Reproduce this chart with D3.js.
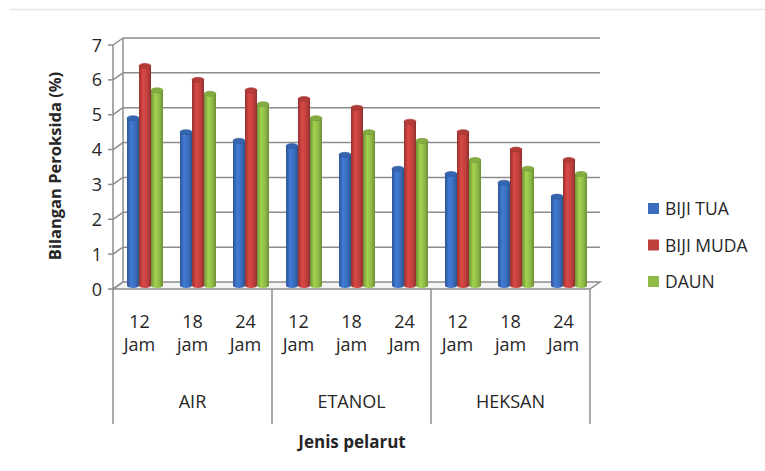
<!DOCTYPE html>
<html>
<head>
<meta charset="utf-8">
<script src="https://cdn.jsdelivr.net/npm/d3@7"></script>
<style>
  body { margin: 0; background: #fff; }
  svg text { font-family: "Open Sans", sans-serif; fill: #262626; }
</style>
</head>
<body>
<svg id="chart" width="765" height="471"></svg>
<script>
// data
var groups = ["AIR", "ETANOL", "HEKSAN"];
var hours = ["12|Jam", "18|jam", "24|Jam"];
var seriesNames = ["BIJI TUA", "BIJI MUDA", "DAUN"];
var bijiTua = [4.8, 4.4, 4.15, 4.0, 3.75, 3.35, 3.2, 2.95, 2.55];
var bijiMuda = [6.3, 5.9, 5.6, 5.35, 5.1, 4.7, 4.4, 3.9, 3.6];
var daun = [5.6, 5.5, 5.2, 4.8, 4.4, 4.15, 3.6, 3.35, 3.2];
var yTicks = [0, 1, 2, 3, 4, 5, 6, 7];
var colors = ["#3a6dbd", "#c0403d", "#8fba46"];

window.onload = function() {
    var svg = d3.select("#chart");
    var series = [bijiTua, bijiMuda, daun];

    var fx0 = 113, fx1 = 590,   // front edge of the floor
        dx = 10, dy = -7;        // depth offset of the back wall

    // categories: one per group x hour
    var cats = [];
    groups.forEach(function(g) {
        hours.forEach(function(h) { cats.push(g + "-" + h); });
    });

    var x = d3.scaleBand().domain(cats).range([fx0, fx1]);
    var y = d3.scaleLinear().domain([0, 7]).range([289, 45]);

    // top faint line
    svg.append("line")
        .attr("x1", 9).attr("x2", 765).attr("y1", 9.5).attr("y2", 9.5)
        .attr("stroke", "#e6e6e6").attr("stroke-width", 1.5);

    // gradients for the cylinders
    var defs = svg.append("defs");
    colors.forEach(function(c, i) {
        var base = d3.color(c);
        var grad = defs.append("linearGradient").attr("id", "g" + i)
            .attr("x1", "0%").attr("x2", "100%").attr("y1", "0%").attr("y2", "0%");
        grad.append("stop").attr("offset", "0%").attr("stop-color", base.darker(0.7));
        grad.append("stop").attr("offset", "35%").attr("stop-color", base.brighter(0.35));
        grad.append("stop").attr("offset", "70%").attr("stop-color", base);
        grad.append("stop").attr("offset", "100%").attr("stop-color", base.darker(0.8));
    });

    var grid = svg.append("g").attr("stroke", "#8c8c8c").attr("stroke-width", 1.5).attr("fill", "none");

    // floor
    grid.append("path")
        .attr("d", "M" + fx0 + "," + y(0) + "L" + fx1 + "," + y(0) +
                   "L" + (fx1 + dx) + "," + (y(0) + dy) + "L" + (fx0 + dx) + "," + (y(0) + dy) + "Z")
        .attr("fill", "#f4f4f4");

    // back wall gridlines and left wall diagonals
    yTicks.forEach(function(t) {
        if (t > 0) {
            grid.append("line")
                .attr("x1", fx0 + dx).attr("x2", fx1 + dx)
                .attr("y1", y(t) + dy).attr("y2", y(t) + dy);
        }
        grid.append("line")
            .attr("x1", fx0).attr("x2", fx0 + dx)
            .attr("y1", y(t)).attr("y2", y(t) + dy);
        grid.append("line")
            .attr("x1", fx0 - 5).attr("x2", fx0)
            .attr("y1", y(t)).attr("y2", y(t));
    });
    grid.append("line").attr("x1", fx0 + dx).attr("x2", fx0 + dx)
        .attr("y1", y(7) + dy).attr("y2", y(0) + dy);
    grid.append("line").attr("x1", fx0).attr("x2", fx0)
        .attr("y1", y(7)).attr("y2", y(0));

    // y tick labels
    svg.append("g").selectAll("text").data(yTicks).enter().append("text")
        .attr("x", 102).attr("y", function(d) { return y(d) + 6.5; })
        .attr("text-anchor", "end").attr("font-size", 18)
        .text(function(d) { return d; });

    // bars as cylinders
    var bw = 12, ry = 2.5;
    var bars = svg.append("g");
    cats.forEach(function(c, ci) {
        var cx = x(c) + x.bandwidth() / 2 + dx * 0.55;
        series.forEach(function(s, si) {
            var left = cx - 1.5 * bw + si * bw;
            var top = y(s[ci]) + dy / 2,
                bottom = y(0) + dy / 2;
            bars.append("rect")
                .attr("x", left).attr("y", top)
                .attr("width", bw).attr("height", bottom - top)
                .attr("fill", "url(#g" + si + ")");
            bars.append("ellipse")
                .attr("cx", left + bw / 2).attr("cy", bottom)
                .attr("rx", bw / 2).attr("ry", ry)
                .attr("fill", "url(#g" + si + ")");
            bars.append("ellipse")
                .attr("cx", left + bw / 2).attr("cy", top)
                .attr("rx", bw / 2).attr("ry", ry)
                .attr("fill", d3.color(colors[si]).darker(0.2))
                .attr("stroke", d3.color(colors[si]).darker(0.6)).attr("stroke-width", 0.6);
        });
    });

    // category labels
    var labels = svg.append("g").attr("font-size", 18).attr("text-anchor", "middle");
    cats.forEach(function(c) {
        var parts = c.split("-")[1].split("|");
        var cx = x(c) + x.bandwidth() / 2;
        labels.append("text").attr("x", cx).attr("y", 328).text(parts[0]);
        labels.append("text").attr("x", cx).attr("y", 351).text(parts[1]);
    });
    groups.forEach(function(g, gi) {
        var gx0 = x(g + "-" + hours[0]),
            gx1 = x(g + "-" + hours[2]) + x.bandwidth();
        labels.append("text").attr("x", (gx0 + gx1) / 2).attr("y", 408).text(g);
        grid.append("line").attr("x1", gx0).attr("x2", gx0).attr("y1", y(0)).attr("y2", 424);
        if (gi === groups.length - 1) {
            grid.append("line").attr("x1", gx1).attr("x2", gx1).attr("y1", y(0)).attr("y2", 424);
        }
    });

    // axis titles
    svg.append("text")
        .attr("x", 352).attr("y", 448).attr("text-anchor", "middle")
        .attr("font-size", 17).attr("font-weight", "bold")
        .text("Jenis pelarut");
    svg.append("text")
        .attr("transform", "translate(61,166) rotate(-90)")
        .attr("text-anchor", "middle")
        .attr("font-size", 16.5).attr("font-weight", "bold")
        .text("Bilangan Peroksida (%)");

    // legend
    var legend = svg.append("g");
    seriesNames.forEach(function(n, i) {
        var ly = 209 + i * 36.5;
        legend.append("rect").attr("x", 648).attr("y", ly - 6)
            .attr("width", 11).attr("height", 11).attr("fill", colors[i]);
        legend.append("text").attr("x", 665).attr("y", ly + 6)
            .attr("font-size", 17.5).text(n);
    });
};
</script>
</body>
</html>
